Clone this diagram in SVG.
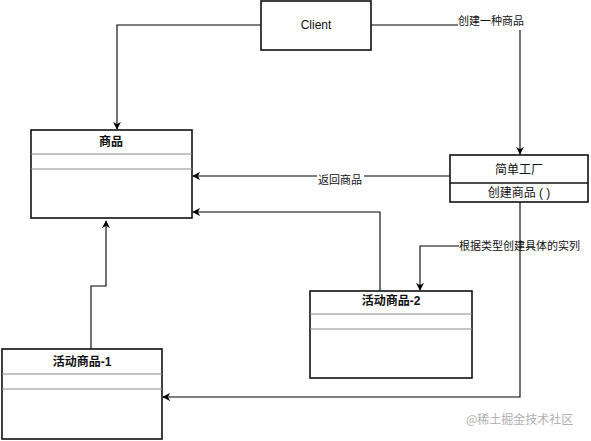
<svg xmlns="http://www.w3.org/2000/svg" width="591" height="441" viewBox="0 0 591 441">
<style>
.box{fill:#fff;stroke:#111;stroke-width:1.6}
.div{stroke:#8a8a8a;stroke-width:1}
.divd{stroke:#111;stroke-width:1.4}
.t{font-family:"Liberation Sans","Noto Sans CJK SC",sans-serif;font-size:12px;fill:#111;text-anchor:middle}
.b{font-weight:bold}
.lbl{font-family:"Liberation Sans","Noto Sans CJK SC",sans-serif;font-size:11px;fill:#111}
.ln{fill:none;stroke:#000;stroke-width:1.1}
.wm{font-family:"Noto Sans CJK SC",sans-serif;font-size:12px;fill:#b0b0b0}
</style>
<defs>
<marker id="ah" viewBox="0 0 10 10" refX="9" refY="5" markerWidth="8" markerHeight="8" markerUnits="userSpaceOnUse" orient="auto">
<path d="M0,0 L10,5 L0,10 L3,5 Z" fill="#000"/>
</marker>
</defs>
<rect width="591" height="441" fill="#fff"/>
<g id="connectors">
<path class="ln" d="M261,25 H117 V129" marker-end="url(#ah)"/>
<path class="ln" d="M371,25 H458"/>
<path class="ln" d="M520,30 V154" marker-end="url(#ah)"/>
<path class="ln" d="M450,176 H364"/>
<path class="ln" d="M317,176 H193" marker-end="url(#ah)"/>
<path class="ln" d="M380,291 V212 H193" marker-end="url(#ah)"/>
<path class="ln" d="M459,246 H420 V290" marker-end="url(#ah)"/>
<path class="ln" d="M520,202 V397 H163" marker-end="url(#ah)"/>
<path class="ln" d="M91,349 V286 H106 V221" marker-end="url(#ah)"/>
<text class="lbl" x="458" y="25">创建一种商品</text>
<text class="lbl" x="318" y="184">返回商品</text>
<text class="lbl" x="459" y="250">根据类型创建具体的实列</text>
</g>
<g id="client">
<rect class="box" x="261" y="1" width="110" height="49"/>
<text class="t" x="316" y="29">Client</text>
</g>
<g id="shangpin">
<rect class="box" x="31" y="130" width="161" height="88"/>
<line class="div" x1="31" y1="154" x2="192" y2="154"/>
<line class="div" x1="31" y1="169" x2="192" y2="169"/>
<text class="t b" x="111" y="146">商品</text>
</g>
<g id="factory">
<rect class="box" x="450" y="155" width="138" height="47"/>
<line class="divd" x1="450" y1="183" x2="588" y2="183"/>
<text class="t" x="519" y="174">简单工厂</text>
<text class="t" x="519" y="197">创建商品 ( )</text>
</g>
<g id="active2">
<rect class="box" x="310" y="291" width="162" height="87"/>
<line class="div" x1="310" y1="314" x2="472" y2="314"/>
<line class="div" x1="310" y1="329" x2="472" y2="329"/>
<text class="t b" x="391" y="305">活动商品-2</text>
</g>
<g id="active1">
<rect class="box" x="2" y="349" width="160" height="90"/>
<line class="div" x1="2" y1="374" x2="162" y2="374"/>
<line class="div" x1="2" y1="389" x2="162" y2="389"/>
<text class="t b" x="82" y="366">活动商品-1</text>
</g>
<text class="wm" x="466" y="424">@稀土掘金技术社区</text>
</svg>
